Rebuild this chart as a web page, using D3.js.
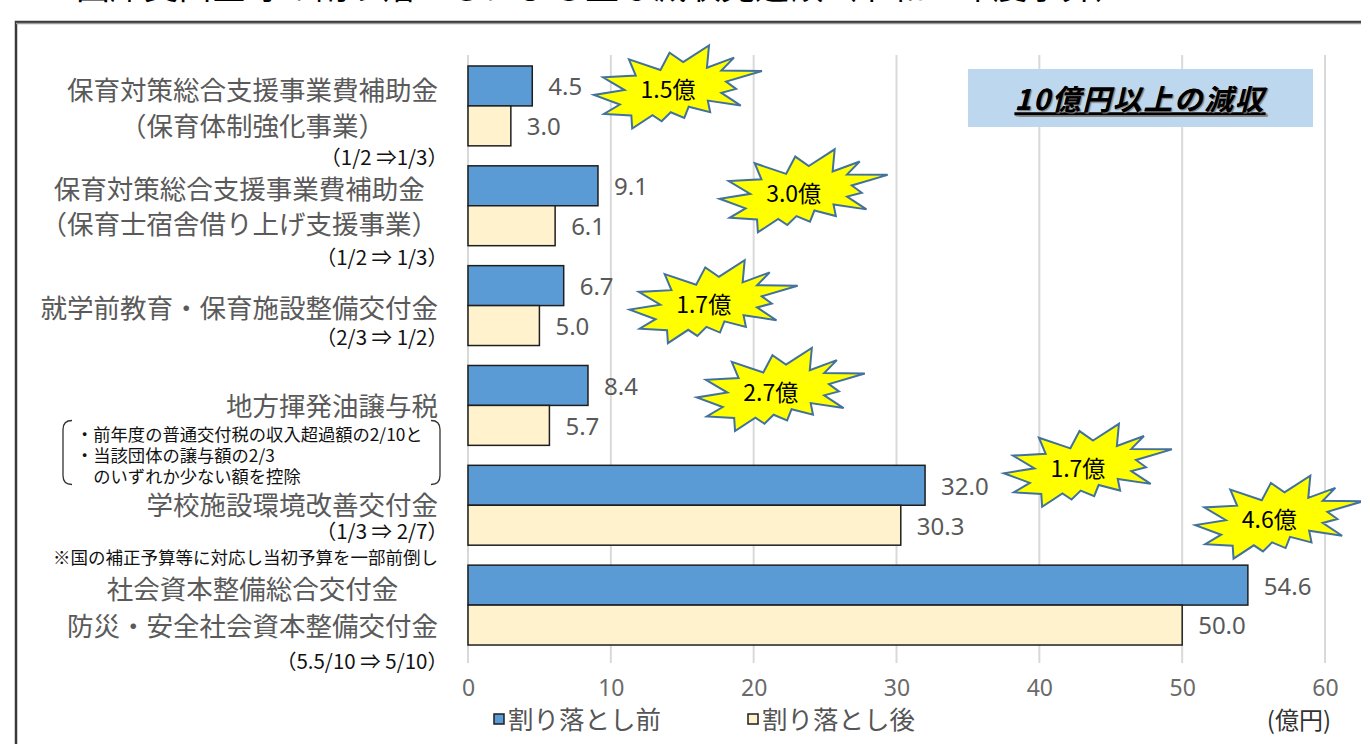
<!DOCTYPE html>
<html><head><meta charset="utf-8">
<script src="https://cdn.jsdelivr.net/npm/d3@7"></script>
<style>body{margin:0;background:#fff;overflow:hidden}svg{display:block}</style>
</head><body><svg id="c" width="1361" height="744"></svg>
<script>
// ---- data ----
const categories = ["保育体制強化事業", "保育士宿舎借り上げ支援事業", "就学前教育・保育施設整備交付金", "地方揮発油譲与税", "学校施設環境改善交付金", "社会資本整備総合交付金"];
const beforeValues = [4.5, 9.1, 6.7, 8.4, 32.0, 54.6];
const afterValues = [3.0, 6.1, 5.0, 5.7, 30.3, 50.0];
const reductionLabels = ["1.5億", "3.0億", "1.7億", "2.7億", "1.7億", "4.6億"];
const xTicks = [0, 10, 20, 30, 40, 50, 60];
const seriesNames = ["割り落とし前", "割り落とし後"];
const categoryLines = [
  ["保育対策総合支援事業費補助金", "（保育体制強化事業）"],
  ["保育対策総合支援事業費補助金", "（保育士宿舎借り上げ支援事業）"],
  ["就学前教育・保育施設整備交付金"],
  ["地方揮発油譲与税"],
  ["学校施設環境改善交付金"],
  ["社会資本整備総合交付金", "防災・安全社会資本整備交付金"]
];
const rateNotes = ["（1/2 ⇒1/3）", "（1/2 ⇒ 1/3）", "（2/3 ⇒ 1/2）", "", "（1/3 ⇒ 2/7）", "（5.5/10 ⇒ 5/10）"];
const taxNote = ["・前年度の普通交付税の収入超過額の2/10と", "・当該団体の譲与額の2/3", "　のいずれか少ない額を控除"];
const footNote = "※国の補正予算等に対応し当初予算を一部前倒し";
const calloutText = "10億円以上の減収";
const unitText = "(億円)";
const titleText = "２　国庫支出金等の割り落としによる主な減収見込額（令和２年度予算）";

// ---- layout ----
const JP = "'Noto Sans CJK JP','Noto Sans',sans-serif";
const NUM = "'Liberation Sans Narrow','Noto Sans',sans-serif";
const svg = d3.select("#c");
const x = d3.scaleLinear().domain([0, 60]).range([468, 1325]);
const y = d3.scaleBand().domain(categories).range([56, 655]).paddingInner(0.2).paddingOuter(0.1);
const sub = d3.scaleBand().domain(seriesNames).range([0, y.bandwidth()]);
const colors = {"割り落とし前": "#5b9bd5", "割り落とし後": "#fff2cc"};

// title (cut off at top, as in the source image)
svg.append("text").attr("x", 8).attr("y", -1).attr("font-family", JP).attr("font-size", 34)
  .attr("fill", "#000").text(titleText);

// frame
svg.append("rect").attr("x", 16).attr("y", 22).attr("width", 1400).attr("height", 800)
  .attr("fill", "none").attr("stroke", "#3a3a3a").attr("stroke-width", 2.5);
svg.append("line").attr("x1", 16).attr("x2", 1361).attr("y1", 23.5).attr("y2", 23.5)
  .attr("stroke", "#9a9a9a").attr("stroke-width", 1.5);

// gridlines
svg.append("g").selectAll("line").data(xTicks).join("line")
  .attr("x1", d => x(d)).attr("x2", d => x(d)).attr("y1", 55).attr("y2", 663)
  .attr("stroke", "#d9d9d9").attr("stroke-width", 2);

// x axis labels
const xa = svg.append("g").attr("transform", "translate(0,689)")
  .call(d3.axisBottom(x).tickValues(xTicks).tickSize(0).tickPadding(0));
xa.select(".domain").remove();
xa.selectAll("text").attr("font-family", NUM).attr("font-size", 23).attr("fill", "#6a6a6a")
  .attr("dy", "0.32em").attr("y", 0);

// bars
const series = [beforeValues, afterValues];
const rows = [];
categories.forEach((c, i) => seriesNames.forEach((s, j) => rows.push({c, s, v: series[j][i]})));
svg.append("g").selectAll("rect").data(rows).join("rect")
  .attr("x", x(0)).attr("y", d => y(d.c) + sub(d.s))
  .attr("width", d => x(d.v) - x(0)).attr("height", sub.bandwidth())
  .attr("fill", d => colors[d.s]).attr("stroke", "#1e1e1e").attr("stroke-width", 1.5);

// value labels
svg.append("g").selectAll("text").data(rows).join("text")
  .attr("x", d => x(d.v) + 16).attr("y", d => y(d.c) + sub(d.s) + sub.bandwidth() / 2 + 1)
  .attr("dy", "0.35em").attr("font-family", NUM).attr("font-size", 24).attr("fill", "#595959")
  .text(d => d.v.toFixed(1));

// category labels
const RIGHT = 438;
const lineOffsets = [[24, 60], [24, 59], [43], [41], [40], [24, 61]];
const rateOffsets = [92, 92, 72, 0, 66, 96];
categories.forEach((c, i) => {
  const g = svg.append("g");
  const ts = categoryLines[i].map((t, k) => g.append("text")
    .attr("y", y(c) + lineOffsets[i][k]).attr("dy", "0.36em")
    .attr("font-family", JP).attr("font-size", 26.5).attr("fill", "#5a5a5a").text(t));
  const maxW = d3.max(ts, t => t.node().getComputedTextLength());
  ts.forEach(t => t.attr("x", RIGHT - maxW / 2).attr("text-anchor", "middle"));
  if (rateNotes[i]) {
    svg.append("text").attr("x", 448).attr("y", y(c) + rateOffsets[i]).attr("dy", "0.36em")
      .attr("text-anchor", "end").attr("font-family", JP).attr("font-size", 20.5).attr("fill", "#111")
      .text(rateNotes[i]);
  }
});

// tax note with brackets
const g4 = y(categories[3]);
const nb = svg.append("g");
nb.selectAll("text").data(taxNote).join("text")
  .attr("x", 76).attr("y", (d, k) => g4 + 69 + k * 21).attr("dy", "0.36em")
  .attr("font-family", JP).attr("font-size", 17.3).attr("fill", "#111").text(d => d);
const bTop = g4 + 55, bBot = g4 + 119;
nb.append("path").attr("d", `M72,${bTop} Q63,${bTop} 63,${bTop + 9} L63,${bBot - 9} Q63,${bBot} 72,${bBot}`)
  .attr("fill", "none").attr("stroke", "#333").attr("stroke-width", 1.3);
nb.append("path").attr("d", `M431,${bTop} Q440,${bTop} 440,${bTop + 9} L440,${bBot - 9} Q440,${bBot} 431,${bBot}`)
  .attr("fill", "none").attr("stroke", "#333").attr("stroke-width", 1.3);

// footnote
svg.append("text").attr("x", 438).attr("y", y(categories[4]) + 92).attr("dy", "0.36em")
  .attr("text-anchor", "end").attr("font-family", JP).attr("font-size", 17.5).attr("fill", "#111")
  .text(footNote);

// starbursts (explosion shape)
const seal = [[11462,4342],[14790,0],[14525,5777],[18007,3172],[16380,6532],[21600,6645],[16985,9402],[18270,11290],[16380,12310],[18877,15632],[14640,14350],[14942,17370],[12180,15935],[11612,18842],[9872,17370],[8700,19712],[7527,18125],[4917,21600],[4805,18240],[1285,17825],[3330,15370],[0,12877],[3935,11592],[1172,8270],[5372,7817],[4502,3625],[8550,6382],[9722,1887]];
const starX = [14.7, 23.5, 17.2, 21.9, 43.4, 56.8];
const starDy = [21, 25, 36, 24, 0, -48];
const SW = 168, SH = 83;
reductionLabels.forEach((lab, i) => {
  const cx = x(starX[i]), cy = y(categories[i]) + starDy[i];
  const pts = seal.map(([a, b]) => [cx - SW / 2 + a / 21600 * SW, cy - SH / 2 + b / 21600 * SH]);
  svg.append("path").attr("d", d3.line()(pts) + "Z").attr("fill", "#ffff00")
    .attr("stroke", "#41719c").attr("stroke-width", 2).attr("stroke-linejoin", "miter");
  svg.append("text").attr("x", cx - 10).attr("y", cy + 3).attr("dy", "0.36em").attr("text-anchor", "middle")
    .attr("font-family", JP).attr("font-size", 23).attr("fill", "#000").text(lab);
});

// callout box
svg.append("rect").attr("x", 968).attr("y", 69).attr("width", 345).attr("height", 58).attr("fill", "#bdd7ee");
svg.append("text").attr("x", 1140).attr("y", 100).attr("dy", "0.36em").attr("text-anchor", "middle")
  .attr("font-family", JP).attr("font-size", 28.5).attr("font-weight", "bold").attr("font-style", "italic")
  .attr("letter-spacing", 2).attr("text-decoration", "underline").attr("fill", "#000")
  .style("text-shadow", "1px 1px 1px #888").text(calloutText);

// legend
const lg = svg.append("g");
const legX = [494, 748];
seriesNames.forEach((s, j) => {
  lg.append("rect").attr("x", legX[j]).attr("y", 714).attr("width", 10).attr("height", 10)
    .attr("fill", colors[s]).attr("stroke", "#1e1e1e").attr("stroke-width", 1.5);
  lg.append("text").attr("x", legX[j] + 14).attr("y", 720).attr("dy", "0.36em")
    .attr("font-family", JP).attr("font-size", 25.5).attr("fill", "#555").text(s);
});
svg.append("text").attr("x", 1331).attr("y", 720).attr("dy", "0.36em").attr("text-anchor", "end")
  .attr("font-family", JP).attr("font-size", 24).attr("fill", "#333").text(unitText);
</script></body></html>
